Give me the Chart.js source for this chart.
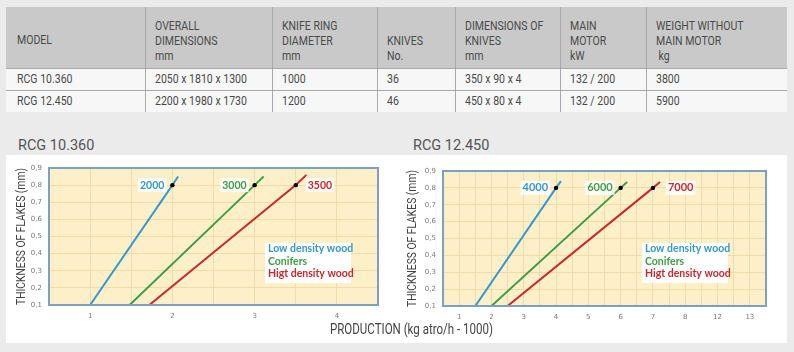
<!DOCTYPE html>
<html>
<head>
<meta charset="utf-8">
<script src="https://cdn.jsdelivr.net/npm/chart.js@4.4.0/dist/chart.umd.min.js"></script>
<style>
  body { margin: 0; width: 794px; height: 352px; background: #ebebeb; position: relative; overflow: hidden;
         font-family: Roboto, "Noto Sans", sans-serif; color: #4a4a4a; }
  table { position: absolute; left: 6px; top: 7px; width: 781px; border-collapse: collapse; table-layout: fixed; font-size: 13px; }
  th, td { border-left: 1px solid #a9a9a9; padding: 0 0 0 9px; text-align: left; font-weight: normal; white-space: nowrap; overflow: visible; }
  th:first-child, td:first-child { border-left: none; padding-left: 11px; }
  th { background: #c9c9c9; height: 61px; vertical-align: bottom; padding-bottom: 5px; line-height: 15px; box-sizing: border-box; }
  th.mid { vertical-align: middle; padding-bottom: 0; padding-top: 4px; }
  td { background: #f7f7f7; height: 22px; border-top: 1px solid #a9a9a9; box-sizing: border-box; line-height: 20px; }
  .sq { display: inline-block; transform-origin: left center; }
  .panel { position: absolute; left: 6px; top: 155px; width: 781px; height: 188px; background: #fff; }
  .title { position: absolute; top: 137px; font-size: 14.5px; color: #555; }
  .box { position: absolute; top: 156px; width: 394px; height: 170px; }
  .xtitle { position: absolute; left: 330px; top: 321px; font-size: 14.5px; color: #444; white-space: nowrap; transform-origin: left center; }
</style>
</head>
<body>
<table>
  <colgroup><col style="width:139px"><col style="width:127px"><col style="width:105px"><col style="width:78px"><col style="width:105px"><col style="width:86px"><col style="width:141px"></colgroup>
  <tr>
    <th class="mid">MODEL</th>
    <th>OVERALL<br>DIMENSIONS<br>mm</th>
    <th>KNIFE RING<br>DIAMETER<br>mm</th>
    <th>KNIVES<br>No.</th>
    <th>DIMENSIONS OF<br>KNIVES<br>mm</th>
    <th>MAIN<br>MOTOR<br>kW</th>
    <th>WEIGHT WITHOUT<br>MAIN MOTOR<br>&nbsp;kg</th>
  </tr>
  <tr><td>RCG 10.360</td><td>2050 x 1810 x 1300</td><td>1000</td><td>36</td><td>350 x 90 x 4</td><td>132 / 200</td><td>3800</td></tr>
  <tr><td>RCG 12.450</td><td>2200 x 1980 x 1730</td><td>1200</td><td>46</td><td>450 x 80 x 4</td><td>132 / 200</td><td>5900</td></tr>
</table>

<div class="panel"></div>
<div class="title" style="left:18px">RCG 10.360</div>
<div class="title" style="left:413px">RCG 12.450</div>
<div class="box" style="left:6px"><canvas id="chart10"></canvas></div>
<div class="box" style="left:400px"><canvas id="chart12"></canvas></div>
<div class="xtitle" id="xtitle">PRODUCTION (kg atro/h - 1000)</div>

<script>
// wood types, shared by both charts
const woodTypes = ['Low density wood', 'Conifers', 'Higt density wood'];
const woodColors = ['#3598cf', '#3f9d48', '#c9282d'];

// RCG 10.360 : production (x) vs flake thickness (y)
const rcg10X = [[1.0, 2.0, 2.07], [1.48, 3.0, 3.11], [1.72, 3.5, 3.63]];
const rcg10Y = [[0.1, 0.8, 0.85], [0.1, 0.8, 0.85], [0.1, 0.8, 0.86]];
const rcg10Marks = ['2000', '3000', '3500'];

// RCG 12.450
const rcg12X = [[1.5, 4.0, 4.15], [2.0, 6.0, 6.2], [2.5, 7.0, 7.22]];
const rcg12Y = [[0.1, 0.8, 0.84], [0.1, 0.8, 0.835], [0.1, 0.8, 0.835]];
const rcg12Marks = ['4000', '6000', '7000'];
const rcg12XTicks = ['1', '2', '3', '4', '5', '6', '7', '8', '12', '13'];

const yMin = 0.1, yMax = 0.9;
const yTitle = 'THICKNESS OF FLAKES (mm)';

// squeeze a text element to a given width (the original font is a narrow one)
function squeeze(el, w) {
    const real = el.getBoundingClientRect().width;
    if (real > 0) el.style.transform = 'scaleX(' + (w / real) + ')';
}
squeeze(document.getElementById('xtitle'), 163);
document.querySelectorAll('td, th').forEach(cell => {
    cell.innerHTML = '<span class="sq">' + cell.innerHTML + '</span>';
    squeeze(cell.firstChild, cell.firstChild.getBoundingClientRect().width * 0.81);
});

const plotDeco = {
    id: 'plotDeco',
    beforeDraw(chart) {
        const a = chart.chartArea, c = chart.ctx;
        c.save();
        c.fillStyle = '#fdf0c9';
        c.fillRect(a.left, a.top, a.right - a.left, a.bottom - a.top);
        c.restore();
    },
    afterDatasetsDraw(chart, args, opts) {
        const a = chart.chartArea, c = chart.ctx;
        c.save();
        c.strokeStyle = '#7c9fc4';
        c.lineWidth = 2;
        c.strokeRect(a.left, a.top, a.right - a.left, a.bottom - a.top);

        // value labels next to the marked points
        c.font = 'bold ' + opts.markSize + 'px Lato, "Open Sans", sans-serif';
        c.textBaseline = 'middle';
        c.textAlign = 'left';
        chart.data.datasets.forEach((ds, i) => {
            const p = chart.getDatasetMeta(i).data[1];
            const txt = opts.marks[i];
            const w = c.measureText(txt).width;
            const tx = i === 2 ? p.x + opts.gapR : p.x - opts.gapL - w;
            c.fillStyle = 'rgba(255,255,255,0.85)';
            c.fillRect(tx - 2, p.y - 7, w + 4, 14);
            c.fillStyle = woodColors[i];
            c.fillText(txt, tx, p.y);
        });

        // text legend
        const bx = a.left + opts.legendX, by = a.top + opts.legendY;
        c.fillStyle = '#ffffff';
        c.fillRect(bx - 3, by, 86, 40);
        c.font = 'bold 10.5px Lato, "Open Sans", sans-serif';
        woodTypes.forEach((t, i) => {
            c.fillStyle = woodColors[i];
            c.fillText(t, bx, by + 6 + i * 12.5);
        });

        // y axis title, narrow
        c.font = '13.5px Roboto, sans-serif';
        c.fillStyle = '#444';
        c.textAlign = 'center';
        const tw = c.measureText(yTitle).width;
        c.translate(opts.titleX, (a.top + a.bottom) / 2);
        c.rotate(-Math.PI / 2);
        c.scale(137 / tw, 1);
        c.fillText(yTitle, 0, 0);
        c.restore();
    }
};

function makeChart(id, xs, ys, marks, xMax, xLabels, pad, deco) {
    const datasets = woodTypes.map((name, i) => ({
        label: name,
        data: xs[i].map((x, k) => ({ x: x, y: ys[i][k] })),
        borderColor: woodColors[i],
        borderWidth: 2,
        pointRadius: [0, 2.2, 0],
        pointBackgroundColor: '#000',
        pointBorderWidth: 0,
        showLine: true,
        fill: false
    }));
    return new Chart(document.getElementById(id), {
        type: 'scatter',
        data: { datasets: datasets },
        options: {
            responsive: true,
            maintainAspectRatio: false,
            animation: false,
            layout: { padding: { top: pad.top, right: pad.right, left: 0, bottom: 0 } },
            plugins: {
                legend: { display: false },
                tooltip: { enabled: false },
                plotDeco: Object.assign({ marks: marks }, deco)
            },
            scales: {
                x: {
                    type: 'linear', min: 0.5, max: xMax,
                    grid: { color: '#f0dcab', drawTicks: false },
                    border: { display: false },
                    ticks: {
                        stepSize: 0.5, autoSkip: false, maxRotation: 0, padding: 7,
                        color: '#777', font: { size: 7, family: 'DejaVu Sans' },
                        callback: v => Number.isInteger(v) ? (xLabels ? xLabels[v - 1] : String(v)) : ''
                    },
                    afterFit: s => { s.height = pad.xh; }
                },
                y: {
                    min: yMin, max: yMax,
                    grid: { color: '#f0dcab', drawTicks: false },
                    border: { display: false },
                    ticks: {
                        stepSize: 0.1, padding: 7,
                        color: '#777', font: { size: 7, family: 'DejaVu Sans' },
                        callback: v => v.toFixed(1).replace('.', ',')
                    },
                    afterFit: s => { s.width = 43; }
                }
            }
        },
        plugins: [plotDeco]
    });
}

makeChart('chart10', rcg10X, rcg10Y, rcg10Marks, 4.5, null,
    { top: 12, right: 22, xh: 21 },
    { markSize: 10.5, gapL: 8, gapR: 12, legendX: 219, legendY: 75, titleX: 16 });
makeChart('chart12', rcg12X, rcg12Y, rcg12Marks, 10.5, rcg12XTicks,
    { top: 15, right: 28, xh: 20 },
    { markSize: 11, gapL: 8, gapR: 15, legendX: 202, legendY: 72, titleX: 13 });
</script>
</body>
</html>
